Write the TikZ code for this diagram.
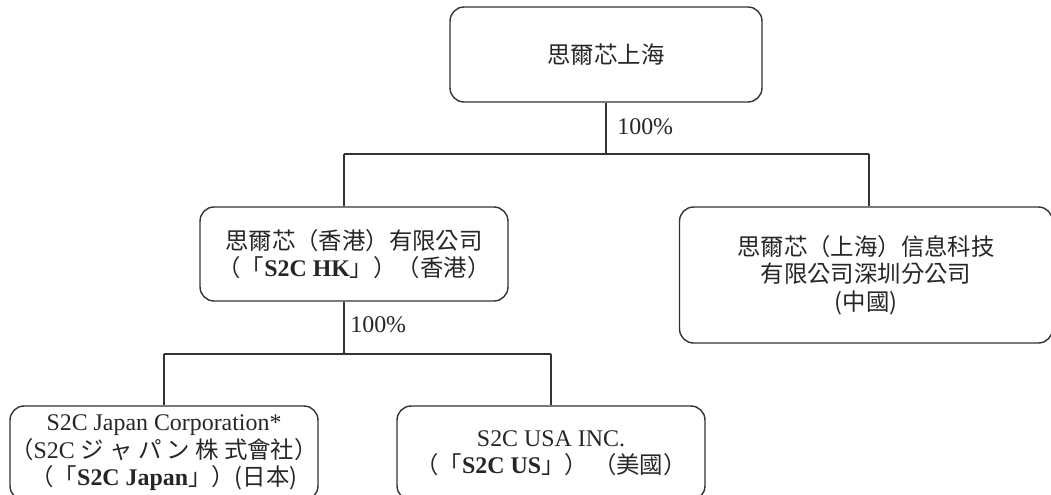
\documentclass[tikz,border=0pt]{standalone}
\usepackage{fontspec}
\setmainfont{Liberation Serif}
\newfontfamily\cjk{Noto Sans CJK TC}[Scale=0.98]
\newcommand{\zh}[1]{{\cjk #1}}

\begin{document}
\begin{tikzpicture}
[x=0.02cm, y=-0.02cm,
 firm/.style={draw=black!80, line width=0.8pt, rounded corners=0.28cm, align=center,
   text=black!85, inner sep=0pt, font=\fontsize{13.6}{15.6}\selectfont},
 link/.style={draw=black!80, line width=0.8pt},
 share/.style={anchor=west, inner sep=0pt, text=black!85, font=\fontsize{13.6}{15.6}\selectfont}]
\useasboundingbox (0,0) rectangle (1051,494);
% companies
\node[firm, minimum width=6.24cm, minimum height=1.9cm] (sh) at (606,54.5) {\zh{思爾芯上海}};
\node[firm, minimum width=6.16cm, minimum height=1.88cm] (hk) at (354,254)
  {\zh{思爾芯（香港）有限公司}\\ \zh{（「}\textbf{S2C HK}\zh{」）（香港）}};
\node[firm, minimum width=7.46cm, minimum height=2.72cm] (sz) at (866,275)
  {\zh{思爾芯（上海）信息科技}\\ \zh{有限公司深圳分公司}\\ \zh{(中國)}};
\node[firm, minimum width=6.16cm, minimum height=1.88cm] (jp) at (164,453)
  {S2C Japan Corporation*\\ \zh{（}S2C \zh{ジ ャ パ ン 株 式會社）}\\ \zh{（「}\textbf{S2C Japan}\zh{」）(日本)}};
\node[firm, minimum width=6.16cm, minimum height=1.88cm] (us) at (551,453)
  {S2C USA INC.\\ \zh{（「}\textbf{S2C US}\zh{」） （美國）}};
% bus points
\coordinate (busa) at (606,154);
\coordinate (busal) at (344,154);
\coordinate (busar) at (869,154);
\coordinate (busb) at (344,354);
\coordinate (busbl) at (164,354);
\coordinate (busbr) at (551,354);
% shareholdings
\draw[link] (sh.south) -- (busa);
\draw[link] (busal) -- (busar);
\draw[link] (busal) -- (busal |- hk.north);
\draw[link] (busar) -- (busar |- sz.north);
\draw[link] (hk.south -| busb) -- (busb);
\draw[link] (busbl) -- (busbr);
\draw[link] (busbl) -- (jp.north);
\draw[link] (busbr) -- (us.north);
\node[share] (pa) at (617,127) {100\%};
\node[share] (pb) at (350,325) {100\%};
\end{tikzpicture}
\end{document}
